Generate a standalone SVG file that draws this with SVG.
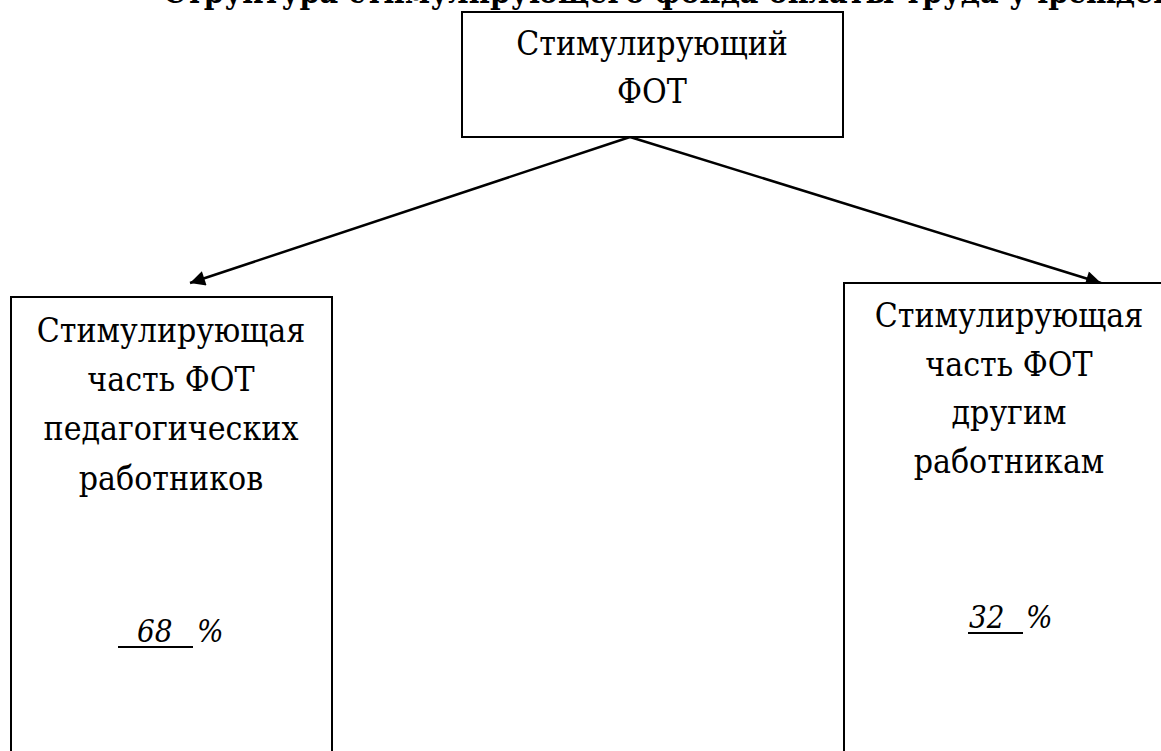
<svg xmlns="http://www.w3.org/2000/svg" width="1161" height="751" viewBox="0 0 1161 751">
<style>
text{font-family:"DejaVu Serif Condensed","DejaVu Serif","Liberation Serif",serif;fill:#000}
.t{font-size:33.5px;text-anchor:middle}
.title{font-size:32px;font-weight:bold}
.pct{font-size:31px;font-style:italic}
.box{fill:#fff;stroke:#000;stroke-width:2}
.conn{stroke:#000;stroke-width:2.5;fill:none;marker-end:url(#arr)}
.ul{stroke:#000;stroke-width:2}
</style>
<defs>
<marker id="arr" viewBox="0 0 10 10" refX="10" refY="5" markerWidth="7" markerHeight="6" markerUnits="strokeWidth" orient="auto">
<path d="M0,0 L10,5 L0,10 z" fill="#000"/>
</marker>
</defs>
<rect width="1161" height="751" fill="#fff"/>
<text class="title" x="163" y="3">Структура стимулирующего фонда оплаты труда учреждения</text>
<g id="connectors">
<line class="conn" x1="630" y1="137" x2="190" y2="283"/>
<line class="conn" x1="630" y1="137" x2="1101" y2="283"/>
</g>
<g id="node-top">
<rect class="box" x="462" y="12" width="381" height="125"/>
<text class="t" x="652" y="55">Стимулирующий</text>
<text class="t" x="652" y="103">ФОТ</text>
</g>
<g id="node-left">
<rect class="box" x="11" y="297" width="321" height="470"/>
<text class="t" x="171" y="342">Стимулирующая</text>
<text class="t" x="171" y="391">часть ФОТ</text>
<text class="t" x="171" y="440">педагогических</text>
<text class="t" x="171" y="490">работников</text>
<text class="pct" x="137" y="642">68</text>
<text class="pct" x="197" y="642">%</text>
<line class="ul" x1="118" y1="647" x2="193" y2="647"/>
</g>
<g id="node-right">
<rect class="box" x="844" y="283" width="340" height="490"/>
<text class="t" x="1009" y="327">Стимулирующая</text>
<text class="t" x="1009" y="376">часть ФОТ</text>
<text class="t" x="1009" y="424">другим</text>
<text class="t" x="1009" y="473">работникам</text>
<text class="pct" x="969" y="628">32</text>
<text class="pct" x="1026" y="628">%</text>
<line class="ul" x1="968" y1="633" x2="1023" y2="633"/>
</g>
</svg>
